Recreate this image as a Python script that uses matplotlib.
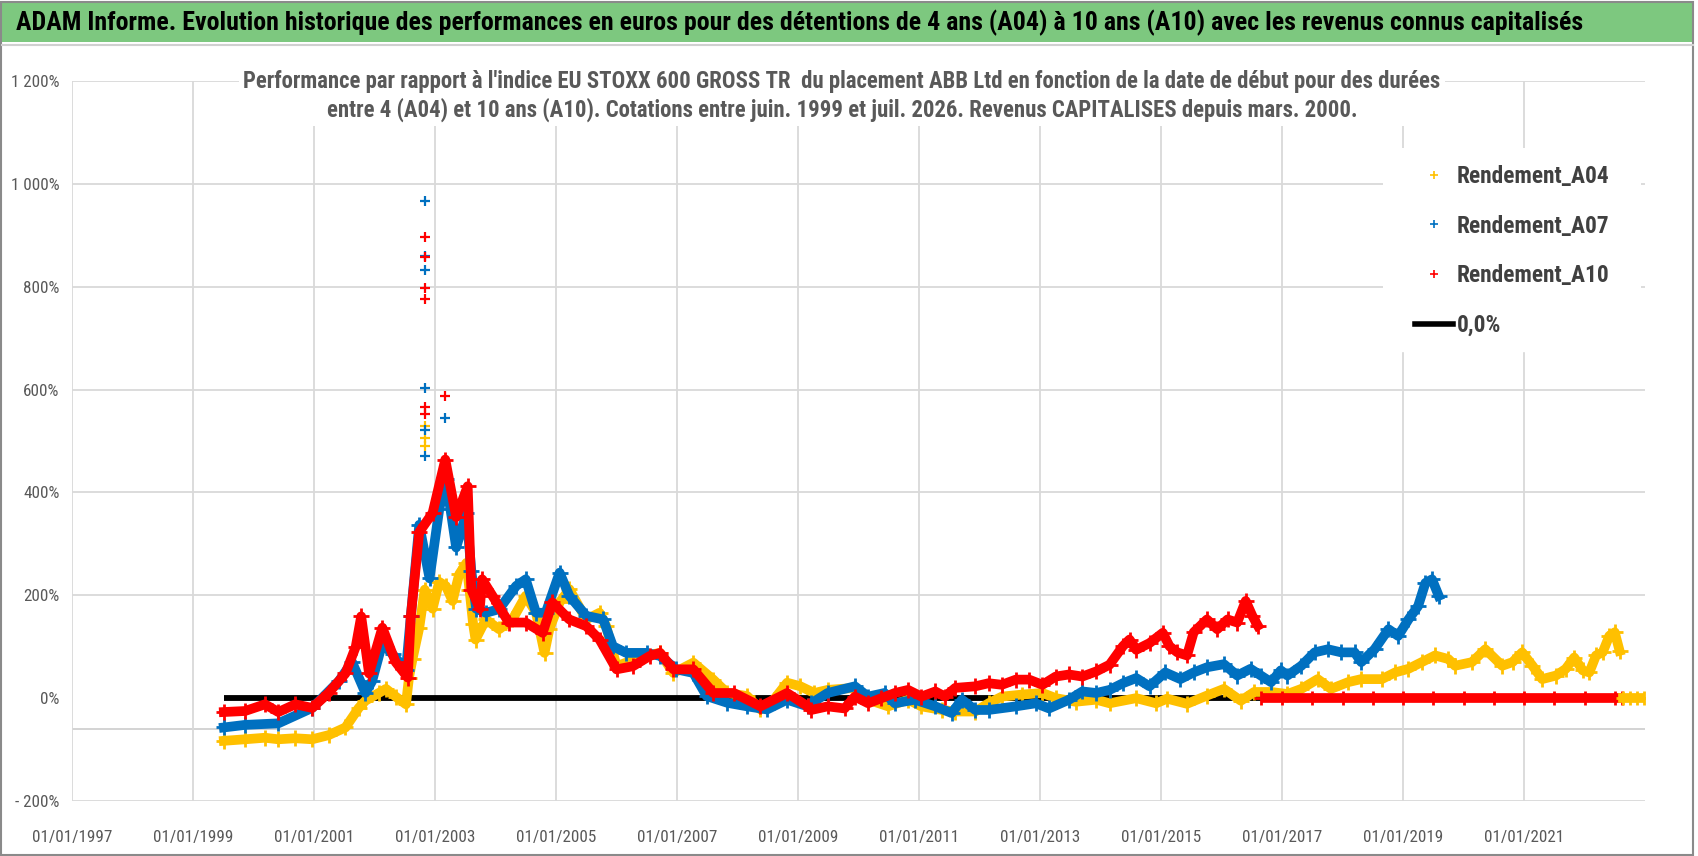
import matplotlib.pyplot as plt
from matplotlib import font_manager
from matplotlib.lines import Line2D
from matplotlib.patches import Rectangle

# --- data (decimal years, % vs index) ---
a04_years = [1999.51, 1999.86, 2000.19, 2000.41, 2000.69, 2000.97, 2001.24, 2001.52, 2001.74, 2001.85,
             2002.07, 2002.19, 2002.35, 2002.52, 2002.57, 2002.63, 2002.74, 2002.83, 2002.96, 2003.07,
             2003.18, 2003.29, 2003.40, 2003.52, 2003.57, 2003.63, 2003.67, 2003.84, 2004.06, 2004.28,
             2004.50, 2004.67, 2004.81, 2004.89, 2005.06, 2005.22, 2005.50, 2005.72, 2005.83, 2006.00,
             2006.16, 2006.44, 2006.72, 2006.94, 2007.27, 2007.60, 2007.83, 2008.16, 2008.38, 2008.60,
             2008.82, 2009.04, 2009.27, 2009.49, 2009.94, 2010.16, 2010.49, 2010.82, 2011.04, 2011.38,
             2011.60, 2011.93, 2012.15, 2012.37, 2012.71, 2013.04, 2013.26, 2013.59, 2013.93, 2014.15,
             2014.59, 2014.92, 2015.10, 2015.43, 2015.76, 2016.04, 2016.32, 2016.54, 2016.82, 2017.09,
             2017.32, 2017.59, 2017.81, 2018.09, 2018.31, 2018.65, 2018.87, 2019.09, 2019.31, 2019.53,
             2019.75, 2019.86, 2020.14, 2020.36, 2020.64, 2020.81, 2020.97, 2021.14, 2021.30, 2021.53,
             2021.69, 2021.83, 2021.97, 2022.08, 2022.19, 2022.30, 2022.41, 2022.50, 2022.58]
a04_vals = [-83, -80, -77, -80, -78, -80, -72, -57, -19, -5,
            10, 18, 3, -12, 40, 77, 137, 211, 174, 226,
            218, 189, 241, 263, 211, 144, 114, 153, 134, 153,
            199, 166, 88, 134, 186, 212, 153, 166, 140, 62,
            69, 82, 88, 49, 69, 36, 10, 4, -22, -3,
            30, 23, 10, 16, 20, -3, -16, -3, -16, -23,
            -26, -26, -10, 3, 7, 10, 0, -7, -3, -10,
            0, -10, -1, -11, 5, 18, -5, 12, 12, 8,
            18, 37, 18, 31, 37, 37, 50, 57, 70, 83,
            76, 63, 70, 95, 63, 70, 89, 63, 37, 44,
            57, 79, 54, 50, 83, 89, 121, 128, 92]
a04_tail_years = [2022.63, 2022.75, 2022.87, 2022.98]
a04_tail_vals = [0, 0, 0, 0]

a07_years = [1999.51, 1999.86, 2000.41, 2000.97, 2001.41, 2001.63, 2001.85, 2001.96, 2002.13, 2002.30,
             2002.52, 2002.60, 2002.74, 2002.91, 2003.07, 2003.18, 2003.35, 2003.52, 2003.60, 2003.68,
             2003.84, 2004.06, 2004.34, 2004.50, 2004.67, 2004.83, 2005.06, 2005.22, 2005.50, 2005.78,
             2005.94, 2006.16, 2006.50, 2006.72, 2006.99, 2007.27, 2007.49, 2007.83, 2008.16, 2008.49,
             2008.82, 2009.16, 2009.22, 2009.49, 2009.94, 2010.16, 2010.43, 2010.60, 2010.93, 2011.27,
             2011.54, 2011.71, 2011.93, 2012.15, 2012.60, 2012.93, 2013.15, 2013.48, 2013.70, 2013.93,
             2014.15, 2014.37, 2014.59, 2014.81, 2015.07, 2015.32, 2015.54, 2015.76, 2016.04, 2016.26,
             2016.48, 2016.65, 2016.82, 2016.98, 2017.09, 2017.32, 2017.54, 2017.76, 2017.98, 2018.20,
             2018.31, 2018.53, 2018.76, 2018.92, 2019.09, 2019.25, 2019.37, 2019.48, 2019.59]
a07_vals = [-57, -52, -49, -19, 33, 70, 10, 33, 107, 85,
            55, 159, 337, 233, 367, 427, 293, 360, 248, 174,
            166, 173, 218, 231, 166, 166, 244, 199, 160, 153,
            101, 88, 88, 82, 56, 49, 4, -9, -16, -22,
            -3, -16, -10, 10, 23, 3, 10, -10, -3, -16,
            -29, -3, -23, -23, -16, -10, -20, -3, 13, 10,
            16, 29, 39, 23, 50, 37, 50, 60, 66, 44,
            57, 44, 31, 54, 44, 63, 89, 95, 89, 89,
            70, 95, 134, 121, 153, 179, 224, 231, 199]

a10_years = [1999.51, 1999.86, 2000.19, 2000.41, 2000.69, 2000.97, 2001.24, 2001.52, 2001.69, 2001.78,
             2001.91, 2002.13, 2002.35, 2002.55, 2002.60, 2002.74, 2002.96, 2003.17, 2003.35, 2003.54,
             2003.60, 2003.74, 2003.78, 2003.95, 2004.22, 2004.50, 2004.78, 2004.94, 2005.22, 2005.50,
             2005.72, 2006.00, 2006.27, 2006.55, 2006.72, 2006.94, 2007.27, 2007.60, 2007.94, 2008.38,
             2008.82, 2009.16, 2009.22, 2009.49, 2009.77, 2009.94, 2010.16, 2010.38, 2010.60, 2010.82,
             2011.04, 2011.27, 2011.43, 2011.60, 2011.93, 2012.15, 2012.37, 2012.60, 2012.82, 2013.04,
             2013.26, 2013.48, 2013.70, 2013.93, 2014.15, 2014.37, 2014.48, 2014.59, 2014.81, 2015.03,
             2015.14, 2015.27, 2015.43, 2015.54, 2015.76, 2015.93, 2016.10, 2016.26, 2016.40, 2016.51,
             2016.60]
a10_vals = [-27, -25, -12, -27, -12, -19, 10, 48, 100, 159,
            48, 137, 70, 40, 159, 323, 360, 464, 352, 412,
            211, 174, 231, 199, 147, 147, 127, 186, 153, 140,
            114, 56, 62, 82, 88, 56, 56, 10, 10, -16,
            10, -16, -23, -16, -20, 3, -10, 0, 10, 16,
            3, 13, 3, 20, 23, 29, 26, 36, 36, 26,
            42, 46, 42, 52, 65, 101, 114, 94, 107, 127,
            101, 89, 83, 128, 153, 134, 153, 147, 189, 160,
            141]
a10_tail_years = [2016.66, 2017.0, 2017.5, 2018.0, 2018.5, 2019.0, 2019.5, 2020.0, 2020.5, 2021.0,
                  2021.5, 2022.0, 2022.5, 2022.62]
a10_tail_vals = [0, 0, 0, 0, 0, 0, 0, 0, 0, 0, 0, 0, 0, 0]

# isolated points of the late-2002 spike
a04_spike_years = [2002.83, 2002.83, 2002.83]
a04_spike_vals = [530, 505, 490]
a07_spike_years = [2002.83, 2002.83, 2002.83, 2002.83, 2002.83, 2002.83, 2003.17]
a07_spike_vals = [967, 859, 832, 604, 521, 471, 545]
a10_spike_years = [2002.83, 2002.83, 2002.83, 2002.83, 2002.83, 2002.83, 2003.17]
a10_spike_vals = [897, 857, 797, 776, 567, 553, 587]

zero_years = [1999.51, 2022.98]
zero_vals = [0, 0]

x_ticks = [1997, 1999, 2001, 2003, 2005, 2007, 2009, 2011, 2013, 2015, 2017, 2019, 2021]
y_ticks = [-200, 0, 200, 400, 600, 800, 1000, 1200]

c04 = '#FFC000'
c07 = '#0070C0'
c10 = '#FF0000'
grey_txt = '#595959'

# narrowest installed sans family first
have = {f.name for f in font_manager.fontManager.ttflist}
fam = [f for f in ['Liberation Sans Narrow', 'DejaVu Sans Condensed', 'Roboto Condensed',
                   'Open Sans Condensed', 'Lato', 'Roboto', 'Liberation Sans'] if f in have]
fam = fam[:1] + ['DejaVu Sans']

W, H = 1698, 856
fig = plt.figure(figsize=(W / 100, H / 100), dpi=100, facecolor='white')
ax = fig.add_axes([72 / W, 1 - 801 / H, (1645 - 72) / W, 720 / H])
rend = fig.canvas.get_renderer()


def fit_size(s, target_px, weight='normal'):
    # font size (pt) that gives the string a width of target_px
    t = fig.text(0, 0, s, family=fam, fontsize=20, fontweight=weight)
    w = t.get_window_extent(rend).width
    t.remove()
    return 20 * target_px / w


# grid
for v in [-200, 200, 400, 600, 800, 1000, 1200]:
    ax.axhline(v, color='#D9D9D9', lw=1.3, zorder=0)
ax.axhline(-60, color='#D0D0D0', lw=1.3, zorder=0)
for xv in x_ticks:
    ax.axvline(xv, color='#D9D9D9', lw=1.3, zorder=0)

ax.plot(zero_years, zero_vals, color='black', lw=4.2, zorder=1, solid_capstyle='butt')

series = [(a04_years, a04_vals, a04_spike_years, a04_spike_vals, c04),
          (a07_years, a07_vals, a07_spike_years, a07_spike_vals, c07),
          (a10_years, a10_vals, a10_spike_years, a10_spike_vals, c10)]
for i, (xs, ys, sx, sy, col) in enumerate(series):
    ax.plot(xs, ys, color=col, lw=7, marker='+', ms=12, mew=2, zorder=2 + i)
    ax.plot(sx, sy, ls='none', color=col, marker='+', ms=7, mew=1.6, zorder=2 + i)
ax.plot(a04_tail_years, a04_tail_vals, color=c04, lw=7, marker='+', ms=10, mew=2, zorder=5)
ax.plot(a10_tail_years, a10_tail_vals, color=c10, lw=7, marker='+', ms=10, mew=2, zorder=4,
        solid_capstyle='butt')

ax.set_xlim(1997, 2023.0)
ax.set_ylim(-200, 1200)
for s in ax.spines.values():
    s.set_visible(False)


def pct(v):
    if v < 0:
        return '- ' + pct(-v)
    s = '{:,}'.format(int(v)).replace(',', ' ')
    return s + '%'


tick_fs = fit_size('01/01/1997', 80)
tick_px = tick_fs * 100 / 72
ax.set_yticks(y_ticks)
ax.set_yticklabels([pct(v) for v in y_ticks], family=fam, fontsize=tick_fs, color=grey_txt)
ax.set_xticks(x_ticks)
ax.set_xticklabels(['01/01/%d' % y for y in x_ticks], family=fam, fontsize=tick_fs, color=grey_txt)
ax.tick_params(length=0)
ax.tick_params(axis='x', pad=(39 - 0.58 * tick_px) * 0.72)
ax.tick_params(axis='y', pad=9)

title1 = "Performance par rapport à l'indice EU STOXX 600 GROSS TR  du placement ABB Ltd en fonction de la date de début pour des durées"
title2 = "entre 4 (A04) et 10 ans (A10). Cotations entre juin. 1999 et juil. 2026. Revenus CAPITALISES depuis mars. 2000."
title_fs = fit_size(title1, 1195, 'bold')
ax.text((842 - 72) / 1573, 1 - 15 / 720, title1 + '\n' + title2,
        transform=ax.transAxes, ha='center', va='center', family=fam, fontsize=title_fs,
        fontweight='bold', color=grey_txt, linespacing=33 / (title_fs * 100 / 72 * 1.17),
        bbox=dict(facecolor='white', edgecolor='none', pad=3), zorder=10)

# legend
leg_fs = fit_size('Rendement_A04', 152, 'bold')
leg_px = leg_fs * 100 / 72
handles = [Line2D([], [], ls='none', marker='+', color=c04, ms=6, mew=1.2),
           Line2D([], [], ls='none', marker='+', color=c07, ms=6, mew=1.2),
           Line2D([], [], ls='none', marker='+', color=c10, ms=6, mew=1.2),
           Line2D([], [], color='black', lw=4)]
bpad = 0.6
leg = ax.legend(handles, ['Rendement_A04', 'Rendement_A07', 'Rendement_A10', '0,0%'],
                loc='upper left', bbox_to_anchor=((1415 - bpad * leg_px) / W, 1 - 151 / H),
                bbox_transform=fig.transFigure, frameon=True, fancybox=False,
                framealpha=1, edgecolor='white', facecolor='white',
                labelspacing=(54 - 1.17 * leg_px) / leg_px,
                handlelength=38 / leg_px, handletextpad=4 / leg_px, borderpad=bpad,
                borderaxespad=0, prop=dict(family=fam, size=leg_fs, weight='bold'))
for t in leg.get_texts():
    t.set_color('#404040')
leg.set_zorder(10)
ax.add_patch(Rectangle((1383 / W, 1 - 347 / H), (1641 - 1383) / W, 199 / H, transform=fig.transFigure,
                       facecolor='white', edgecolor='none', zorder=9))

# banner and frame
banner = 'ADAM Informe. Evolution historique des performances en euros pour des détentions de 4 ans (A04) ' \
         'à 10 ans (A10) avec les revenus connus capitalisés'
fig.patches.append(Rectangle((2 / W, 1 - 42 / H), 1 - 7 / W, 39 / H, transform=fig.transFigure,
                             facecolor='#7DC87F', edgecolor='none', zorder=0))
fig.text(16 / W, 1 - 23 / H, banner, ha='left', va='center', family=fam,
         fontsize=fit_size(banner, 1566, 'bold'), fontweight='bold', color='black')
fig.patches.append(Rectangle((1 / W, 1 / H), 1 - 6 / W, 1 - 3 / H, transform=fig.transFigure,
                             facecolor='none', edgecolor='#8A8A8A', lw=1.5, zorder=0))
fig.lines.append(Line2D([2 / W, 1 - 5 / W], [1 - 45 / H, 1 - 45 / H], transform=fig.transFigure,
                        color='#D0D0D0', lw=1.5))

fig.savefig('out.png', dpi=100, facecolor='white')
